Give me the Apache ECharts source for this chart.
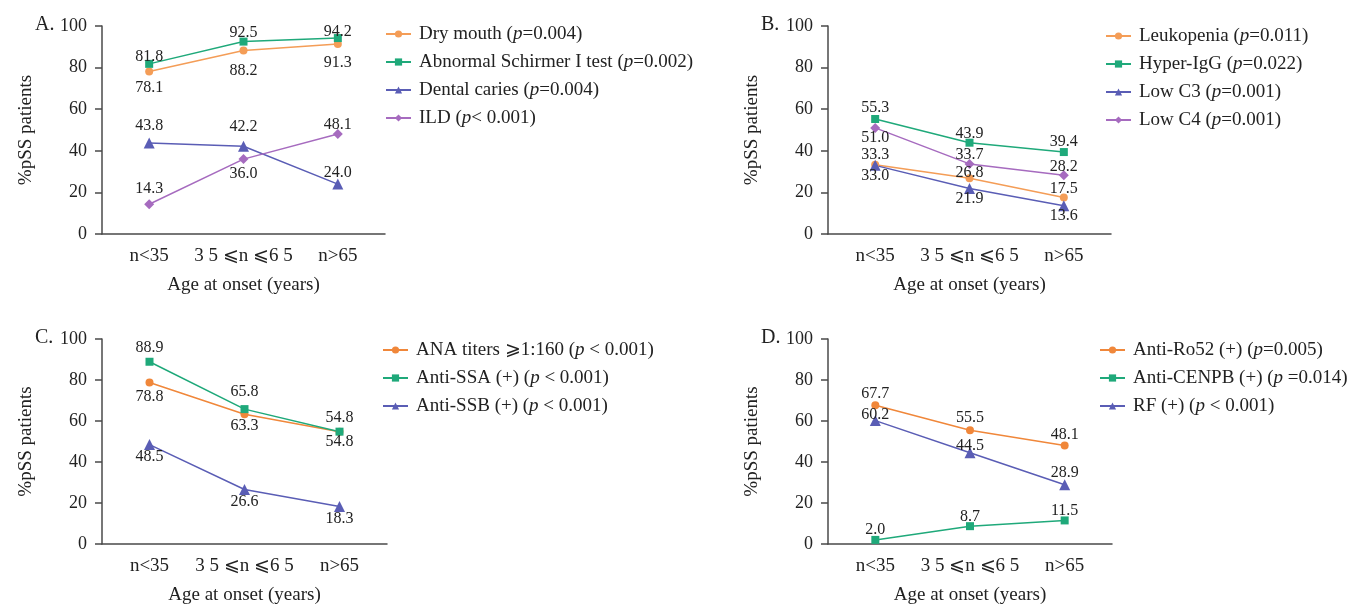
<!DOCTYPE html>
<html>
<head>
<meta charset="utf-8">
<script src="https://cdn.jsdelivr.net/npm/echarts@6/dist/echarts.min.js"></script>
<style>html,body{margin:0;padding:0;background:#fff}#c{width:1354px;height:606px}</style>
</head>
<body>
<div id="c"></div>
<script>
// ---- data ----
const categories = ['n<35', '3 5 \u2A7Dn \u2A7D6 5', 'n>65'];
const yTicks = [0, 20, 40, 60, 80, 100];

// Panel A
const dryMouth = [78.1, 88.2, 91.3];
const schirmer = [81.8, 92.5, 94.2];
const dentalCaries = [43.8, 42.2, 24.0];
const ild = [14.3, 36.0, 48.1];
// Panel B
const leukopenia = [33.3, 26.8, 17.5];
const hyperIgG = [55.3, 43.9, 39.4];
const lowC3 = [33.0, 21.9, 13.6];
const lowC4 = [51.0, 33.7, 28.2];
// Panel C
const anaTiters = [78.8, 63.3, 54.8];
const antiSSA = [88.9, 65.8, 54.8];
const antiSSB = [48.5, 26.6, 18.3];
// Panel D
const antiRo52 = [67.7, 55.5, 48.1];
const antiCENPB = [2.0, 8.7, 11.5];
const rfPos = [60.2, 44.5, 28.9];

const namesA = ['Dry mouth (p=0.004)', 'Abnormal Schirmer I test (p=0.002)', 'Dental caries (p=0.004)', 'ILD (p< 0.001)'];
const namesB = ['Leukopenia (p=0.011)', 'Hyper-IgG (p=0.022)', 'Low C3 (p=0.001)', 'Low C4 (p=0.001)'];
const namesC = ['ANA titers \u2A7E1:160 (p < 0.001)', 'Anti-SSA (+) (p < 0.001)', 'Anti-SSB (+) (p < 0.001)'];
const namesD = ['Anti-Ro52 (+) (p=0.005)', 'Anti-CENPB (+) (p =0.014)', 'RF (+) (p < 0.001)'];

// ---- styles (label vertical offsets, per point) ----
const FONT = "'Liberation Serif','Times New Roman',serif";
const ORANGE_L = '#f49d57', ORANGE = '#f0873a', GREEN = '#1fa97a', BLUE = '#5a5db5', PURPLE = '#a66bbf';
const SYM = {circle: ['circle', 8], rect: ['rect', 8], triangle: ['triangle', 11], diamond: ['diamond', 10]};

const panels = [
  {title: 'A.', left: 102, top: 26, width: 283, height: 208, legendLeft: 380, legendTop: 19,
   names: namesA, data: [dryMouth, schirmer, dentalCaries, ild],
   colors: [ORANGE_L, GREEN, BLUE, PURPLE], syms: ['circle', 'rect', 'triangle', 'diamond'],
   dy: [[16, 20, 19], [-7, -9, -6], [-17, -19, -11], [-15, 15, -9]]},
  {title: 'B.', left: 828, top: 26, width: 283, height: 208, legendLeft: 1100, legendTop: 21,
   names: namesB, data: [leukopenia, hyperIgG, lowC3, lowC4],
   colors: [ORANGE_L, GREEN, BLUE, PURPLE], syms: ['circle', 'rect', 'triangle', 'diamond'],
   dy: [[-10, -5, -9], [-11, -9, -10], [10, 10, 10], [10, -9, -9]]},
  {title: 'C.', left: 102, top: 339, width: 285, height: 207, legendLeft: 377, legendTop: 335,
   names: namesC, data: [anaTiters, antiSSA, antiSSB],
   colors: [ORANGE, GREEN, BLUE], syms: ['circle', 'rect', 'triangle'],
   dy: [[14, 12, 10], [-14, -17, -14], [12, 12, 12]]},
  {title: 'D.', left: 828, top: 339, width: 284, height: 207, legendLeft: 1094, legendTop: 335,
   names: namesD, data: [antiRo52, antiCENPB, rfPos],
   colors: [ORANGE, GREEN, BLUE], syms: ['circle', 'rect', 'triangle'],
   dy: [[-11, -12, -11], [-10, -9, -10], [-6, -7, -12]]}
];

const AXIS_COLOR = '#4a4a4a', TEXT = '#222';
const option = {
  backgroundColor: '#fff',
  animation: false,
  title: [], grid: [], xAxis: [], yAxis: [], legend: [], series: []
};

panels.forEach((p, gi) => {
  option.title.push({
    text: p.title, left: p.left - 67, top: p.top - 11, padding: 0,
    textStyle: {fontFamily: FONT, fontSize: 20, fontWeight: 'normal', color: TEXT}
  });
  option.grid.push({left: p.left, top: p.top, width: p.width, height: p.height, containLabel: false});
  option.xAxis.push({
    type: 'category', gridIndex: gi, data: categories, boundaryGap: true,
    name: 'Age at onset (years)', nameLocation: 'middle', nameGap: 42,
    nameTextStyle: {fontFamily: FONT, fontSize: 19, color: TEXT},
    axisLine: {lineStyle: {color: AXIS_COLOR, width: 1.5}},
    axisTick: {alignWithLabel: true, length: 6, lineStyle: {color: AXIS_COLOR, width: 1.5}},
    axisLabel: {fontFamily: FONT, fontSize: 19, color: TEXT, margin: 13, interval: 0, hideOverlap: false}
  });
  option.yAxis.push({
    type: 'value', gridIndex: gi, min: yTicks[0], max: yTicks[yTicks.length - 1], interval: yTicks[1] - yTicks[0],
    name: '%pSS patients', nameLocation: 'middle', nameGap: 66,
    nameTextStyle: {fontFamily: FONT, fontSize: 19, color: TEXT},
    axisLine: {show: true, lineStyle: {color: AXIS_COLOR, width: 1.5}},
    axisTick: {show: true, length: 7, lineStyle: {color: AXIS_COLOR, width: 1.5}},
    axisLabel: {fontFamily: FONT, fontSize: 18, color: TEXT, margin: 15},
    splitLine: {show: false}
  });
  option.legend.push({
    orient: 'vertical', left: p.legendLeft, top: p.legendTop,
    data: p.names, itemWidth: 25, itemHeight: 9, itemGap: 8,
    selectedMode: false,
    formatter: n => n.replace('(p', '({i|p}'),
    textStyle: {fontFamily: FONT, fontSize: 19, color: TEXT, lineHeight: 20, padding: [0, 0, 0, 3],
      rich: {i: {fontFamily: FONT, fontSize: 19, fontStyle: 'italic', color: TEXT, lineHeight: 20}}}
  });
  p.names.forEach((nm, si) => {
    const vals = p.data[si];
    const sym = SYM[p.syms[si]];
    option.series.push({
      type: 'line', name: nm, xAxisIndex: gi, yAxisIndex: gi,
      symbol: sym[0], symbolSize: sym[1],
      lineStyle: {color: p.colors[si], width: 1.5},
      itemStyle: {color: p.colors[si]},
      data: vals.map((v, k) => ({
        value: v,
        label: {offset: [0, p.dy[si][k]]}
      })),
      label: {
        show: true, position: 'inside',
        formatter: prm => Number(prm.value).toFixed(1),
        fontFamily: FONT, fontSize: 16, color: TEXT
      },
      emphasis: {disabled: true}
    });
  });
});

const chart = echarts.init(document.getElementById('c'), null, {renderer: 'canvas'});
chart.setOption(option);
</script>
</body>
</html>
